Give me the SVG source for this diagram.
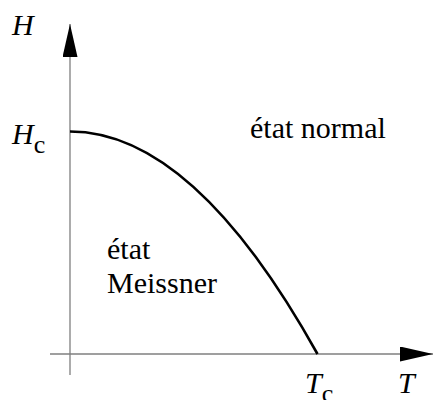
<svg xmlns="http://www.w3.org/2000/svg" width="433" height="400" viewBox="0 0 433 400">
<style>
.ax{stroke:#7f7f7f;stroke-width:1.3;fill:none}
.cv{stroke:#000;stroke-width:2.6;fill:none}
text{font-family:'Liberation Serif','Times New Roman',serif;font-size:30px;fill:#000}
.i{font-style:italic}
</style>
<defs>
<marker id="ah" markerUnits="userSpaceOnUse" markerWidth="34" markerHeight="16" refX="33" refY="7.5" orient="auto">
<path d="M0,0 L33,7.5 L0,15 Z" fill="#000"/>
</marker>
</defs>
<g id="connectors">
<line class="ax" x1="70" y1="375" x2="70" y2="24" marker-end="url(#ah)"/>
<line class="ax" x1="50" y1="354" x2="433" y2="354" marker-end="url(#ah)"/>
<path class="cv" d="M70,131.5 Q193.5,131.5 317.5,354"/>
</g>
<g id="labels">
<text class="i" x="12" y="35">H</text>
<text x="12" y="144"><tspan class="i">H</tspan><tspan dy="9" font-size="26">c</tspan></text>
<text x="305" y="393"><tspan class="i">T</tspan><tspan dy="9" font-size="26">c</tspan></text>
<text class="i" x="398" y="393">T</text>
<text x="250" y="138">état normal</text>
<text x="107" y="259">état</text>
<text x="107" y="293">Meissner</text>
</g>
</svg>
